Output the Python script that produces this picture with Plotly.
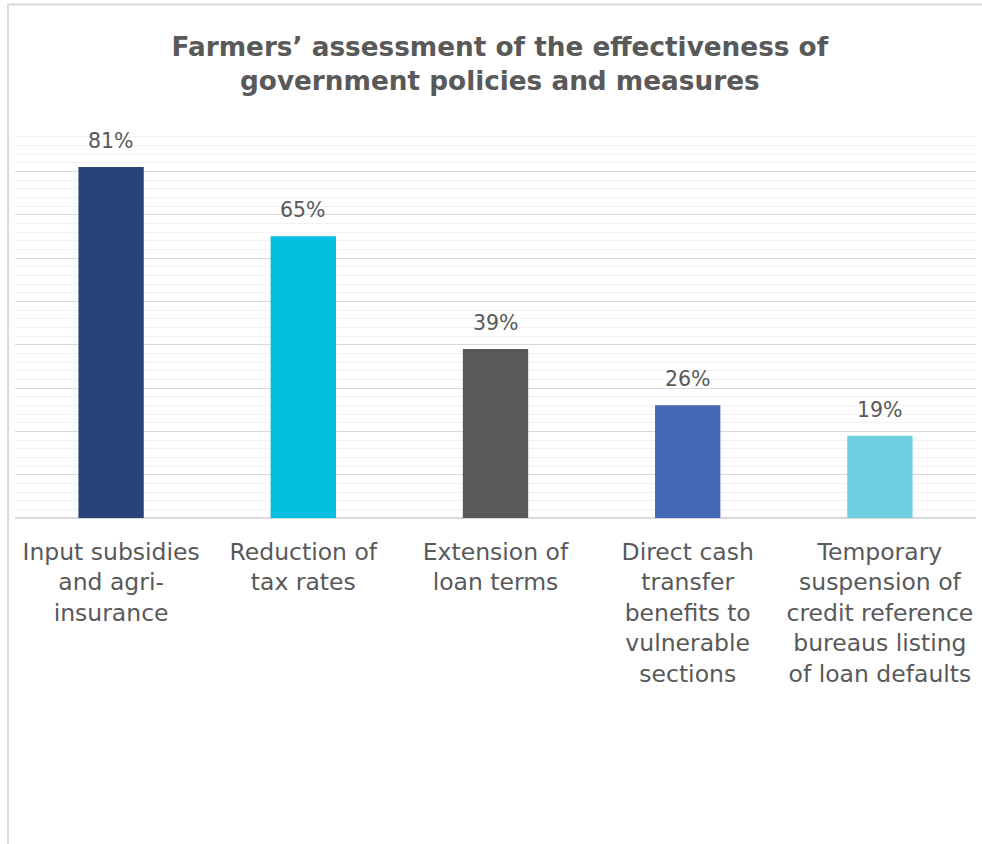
import plotly.graph_objects as go

# Survey categories (wrapped for display) and share of farmers rating each measure effective
categories = [
    "Input subsidies<br>and agri-<br>insurance",
    "Reduction of<br>tax rates",
    "Extension of<br>loan terms",
    "Direct cash<br>transfer<br>benefits to<br>vulnerable<br>sections",
    "Temporary<br>suspension of<br>credit reference<br>bureaus listing<br>of loan defaults",
]
values = [81, 65, 39, 26, 19]
bar_colors = ["#264478", "#00BFDF", "#595959", "#4468B4", "#6DCFE0"]

title_text = "Farmers’ assessment of the effectiveness of<br>government policies and measures"

FONT = "DejaVu Sans, sans-serif"
TEXT_COLOR = "#595959"

fig = go.Figure()
fig.add_trace(go.Bar(
    x=categories,
    y=values,
    marker=dict(color=bar_colors, line=dict(width=0)),
    width=0.34,
    hoverinfo="skip",
))

# value labels above each bar
for cat, val in zip(categories, values):
    fig.add_annotation(
        x=cat, y=val, xref="x", yref="y",
        text=f"{val}%", showarrow=False,
        yanchor="bottom", yshift=12,
        font=dict(family=FONT, size=20.5, color=TEXT_COLOR),
    )

# outer chart frame
fig.add_shape(
    type="rect", xref="paper", yref="paper",
    x0=-0.0073, x1=1.05, y0=-1.0, y1=1.3165,
    line=dict(color="#D9D9D9", width=2),
    fillcolor="rgba(0,0,0,0)", layer="below",
)

fig.update_layout(
    width=982, height=844,
    margin=dict(l=15, r=6, t=128, b=326),
    paper_bgcolor="white", plot_bgcolor="white",
    showlegend=False,
    title=dict(
        text=title_text, x=0.509, xanchor="center",
        y=(844 - 56) / 844, yanchor="middle",
        font=dict(family=FONT, size=26.3, color=TEXT_COLOR, weight="bold"),
    ),
    xaxis=dict(
        showgrid=False, zeroline=False, showline=False, ticks="",
        tickfont=dict(family=FONT, size=23.5, color=TEXT_COLOR),
        ticklabelstandoff=17,
    ),
    yaxis=dict(
        range=[0, 90], dtick=10, showticklabels=False,
        showgrid=True, gridcolor="#D9D9D9", gridwidth=1,
        zeroline=True, zerolinecolor="#D9D9D9", zerolinewidth=2,
        minor=dict(dtick=2, showgrid=True, gridcolor="#F2F2F2", gridwidth=1),
        fixedrange=True,
    ),
    bargap=0.66,
)

fig.write_html("out.html")
